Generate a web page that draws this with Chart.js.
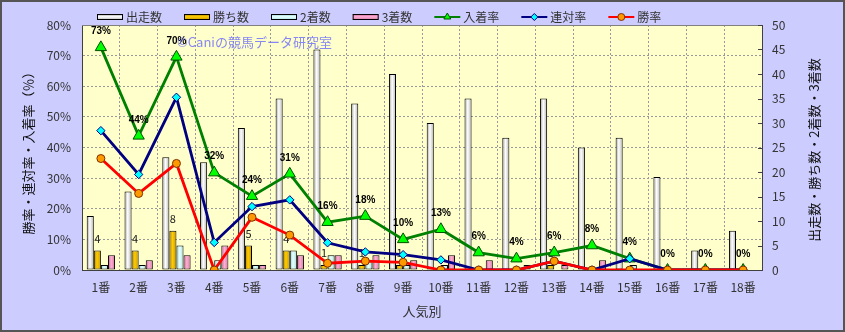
<!DOCTYPE html>
<html>
<head>
<meta charset="utf-8">
<script src="https://cdn.jsdelivr.net/npm/chart.js@4.4.1/dist/chart.umd.min.js"></script>
<style>
  html, body { margin: 0; padding: 0; background: #ccccff; }
</style>
</head>
<body>
<canvas id="chart" width="845" height="332"></canvas>
<script>
const labels = ['1番', '2番', '3番', '4番', '5番', '6番', '7番', '8番', '9番', '10番', '11番', '12番', '13番', '14番', '15番', '16番', '17番', '18番'];

// counts (right axis)
const starts = [11, 16, 23, 22, 29, 35, 45, 34, 40, 30, 35, 27, 35, 25, 27, 19, 4, 8];
const wins = [4, 4, 8, 0, 5, 4, 1, 1, 1, 0, 0, 0, 1, 0, 0, 0, 0, 0];
const seconds = [1, 1, 5, 2, 1, 4, 3, 2, 1, 1, 0, 0, 0, 0, 1, 0, 0, 0];
const thirds = [3, 2, 3, 5, 1, 3, 3, 3, 2, 3, 2, 1, 1, 2, 0, 0, 0, 0];

// rates in % (left axis)
const placeRate = [72.7, 43.8, 69.6, 31.8, 24.1, 31.4, 15.6, 17.6, 10.0, 13.3, 5.7, 3.7, 5.7, 8.0, 3.7, 0, 0, 0];
const quinellaRate = [45.5, 31.2, 56.4, 9.0, 20.7, 22.9, 8.9, 5.9, 5.0, 3.3, 0, 0, 2.9, 0, 3.7, 0, 0, 0];
const winRate = [36.4, 25.0, 34.8, 0, 17.2, 11.4, 2.2, 2.9, 2.5, 0, 0, 0, 2.9, 0, 0, 0, 0, 0];

const font = "'Noto Sans CJK JP', 'Noto Sans', sans-serif";
const textColor = '#333333';
const axisColor = '#404040';
const gridColor = '#999999';

// left edge, centre, right edge of each bar
const barShades = [
  ['#9c9c9c', '#ffffff', '#b4b4b4'],
  ['#b08400', '#ffcc00', '#c89800'],
  ['#8ccaca', '#e8ffff', '#a8e0e0'],
  ['#c45f90', '#ffaed4', '#d47aa6'],
];

function shadeGradient(ctx, x0, y0, x1, y1, s) {
  const g = ctx.createLinearGradient(x0, y0, x1, y1);
  g.addColorStop(0, s[0]);
  g.addColorStop(0.45, s[1]);
  g.addColorStop(1, s[2]);
  return g;
}

const legendItems = [
  { text: '出走数', bar: 0 },
  { text: '勝ち数', bar: 1 },
  { text: '2着数', bar: 2 },
  { text: '3着数', bar: 3 },
  { text: '入着率', line: '#008000', point: 'triangle', fill: '#00ff00', stroke: '#005000' },
  { text: '連対率', line: '#000080', point: 'rectRot', fill: '#00ffff', stroke: '#000080' },
  { text: '勝率', line: '#ff0000', point: 'circle', fill: '#ff9900', stroke: '#803000' },
];

const decor = {
  id: 'decor',
  beforeDraw(chart) {
    const { ctx, chartArea: a } = chart;
    ctx.save();
    ctx.fillStyle = '#ccccff';
    ctx.fillRect(0, 0, chart.width, chart.height);
    ctx.fillStyle = '#ffffcc';
    ctx.fillRect(a.left, a.top, a.right - a.left, a.bottom - a.top);
    ctx.restore();
  },
  beforeDatasetsDraw(chart) {
    const ctx = chart.ctx;
    for (let di = 0; di < 4; di++) {
      const meta = chart.getDatasetMeta(di);
      meta.data.forEach(el => {
        const g = shadeGradient(ctx, el.x - el.width / 2, 0, el.x + el.width / 2, 0, barShades[di]);
        el.options = Object.assign({}, el.options, { backgroundColor: g });
      });
    }
  },
  afterDatasetDraw(chart, args) {
    const ctx = chart.ctx;
    if (args.index === 1) {
      // win counts above the gold bars
      ctx.save();
      ctx.font = '11px ' + font;
      ctx.fillStyle = '#222';
      ctx.textAlign = 'center';
      ctx.textBaseline = 'middle';
      args.meta.data.forEach((el, i) => {
        if (wins[i] > 0) ctx.fillText(String(wins[i]), el.x, el.y - 12);
      });
      ctx.restore();
    }
    if (args.index === 4) {
      ctx.save();
      ctx.font = "bold 10px 'Liberation Sans', Arial, sans-serif";
      ctx.fillStyle = '#000';
      ctx.textAlign = 'center';
      ctx.textBaseline = 'middle';
      args.meta.data.forEach((el, i) => {
        ctx.fillText(Math.round(placeRate[i]) + '%', el.x, el.y - 16);
      });
      ctx.restore();
    }
  },
  afterDraw(chart) {
    const { ctx, chartArea: a } = chart;
    ctx.save();

    // plot top border
    ctx.strokeStyle = '#808080';
    ctx.lineWidth = 1;
    ctx.beginPath();
    ctx.moveTo(a.left, a.top + 0.5);
    ctx.lineTo(a.right, a.top + 0.5);
    ctx.stroke();

    // inward ticks on the right axis
    const y1 = chart.scales.y1;
    ctx.strokeStyle = axisColor;
    y1.ticks.forEach(t => {
      const py = Math.round(y1.getPixelForValue(t.value)) + 0.5;
      ctx.beginPath();
      ctx.moveTo(a.right - 4, py);
      ctx.lineTo(a.right, py);
      ctx.stroke();
    });

    // legend
    ctx.font = '12px ' + font;
    ctx.textBaseline = 'middle';
    ctx.textAlign = 'left';
    let x = 97;
    const ly = 17;
    legendItems.forEach(item => {
      if (item.bar !== undefined) {
        ctx.fillStyle = shadeGradient(ctx, 0, ly - 3, 0, ly + 3, barShades[item.bar]);
        ctx.fillRect(x, ly - 3, 26, 6);
        ctx.strokeStyle = '#000';
        ctx.lineWidth = 1;
        ctx.strokeRect(x + 0.5, ly - 2.5, 25, 5);
      } else {
        ctx.strokeStyle = item.line;
        ctx.lineWidth = 2;
        ctx.beginPath();
        ctx.moveTo(x, ly);
        ctx.lineTo(x + 26, ly);
        ctx.stroke();
        ctx.fillStyle = item.fill;
        ctx.strokeStyle = item.stroke;
        ctx.lineWidth = 1;
        Chart.helpers.drawPoint(ctx, { pointStyle: item.point, radius: item.point === 'triangle' ? 4 : 3.5, borderWidth: 1 }, x + 13, ly);
      }
      ctx.fillStyle = textColor;
      ctx.fillText(item.text, x + 29, ly);
      x += 29 + ctx.measureText(item.text).width + 22;
    });

    // axis titles
    ctx.fillStyle = '#111';
    ctx.font = '13px ' + font;
    ctx.textAlign = 'center';
    ctx.save();
    ctx.translate(28, 150);
    ctx.rotate(-Math.PI / 2);
    ctx.fillText('勝率・連対率・入着率（％）', 0, 0);
    ctx.restore();
    ctx.save();
    ctx.translate(814, 150);
    ctx.rotate(-Math.PI / 2);
    ctx.fillText('出走数・勝ち数・2着数・3着数', 0, 0);
    ctx.restore();
    ctx.fillStyle = textColor;
    ctx.fillText('人気別', (a.left + a.right) / 2, 311);

    // watermark
    ctx.font = '13px ' + font;
    ctx.textAlign = 'left';
    ctx.fillStyle = 'rgba(105, 105, 250, 0.8)';
    ctx.fillText('©Caniの競馬データ研究室', 177, 42);

    // outer frame
    ctx.strokeStyle = '#555';
    ctx.lineWidth = 2;
    ctx.strokeRect(1, 1, chart.width - 2, chart.height - 2);
    ctx.restore();
  },
};

function barSet(label, data) {
  return {
    type: 'bar',
    label: label,
    data: data,
    yAxisID: 'y1',
    backgroundColor: '#ffffff',
    borderColor: '#000000',
    borderWidth: 1,
    borderSkipped: false,
    barPercentage: 1.0,
    categoryPercentage: 0.75,
    order: 4,
  };
}

function lineSet(label, data, color, style, fill, stroke, radius, order) {
  return {
    type: 'line',
    label: label,
    data: data,
    yAxisID: 'y',
    borderColor: color,
    borderWidth: 2.8,
    pointStyle: style,
    pointRadius: radius,
    pointBackgroundColor: fill,
    pointBorderColor: stroke,
    pointBorderWidth: 1,
    tension: 0,
    order: order,
  };
}

new Chart(document.getElementById('chart').getContext('2d'), {
  type: 'bar',
  data: {
    labels: labels,
    datasets: [
      barSet('出走数', starts),
      barSet('勝ち数', wins),
      barSet('2着数', seconds),
      barSet('3着数', thirds),
      lineSet('入着率', placeRate, '#008000', 'triangle', '#00ff00', '#005000', 6.5, 3),
      lineSet('連対率', quinellaRate, '#000080', 'rectRot', '#00ffff', '#000080', 4.2, 2),
      lineSet('勝率', winRate, '#ff0000', 'circle', '#ff9900', '#803000', 4, 1),
    ],
  },
  options: {
    responsive: false,
    animation: false,
    layout: { padding: { top: 25, left: 0, right: 0, bottom: 0 } },
    plugins: {
      legend: { display: false },
      tooltip: { enabled: false },
    },
    scales: {
      x: {
        offset: true,
        grid: { offset: true, color: gridColor, drawTicks: false },
        border: { color: axisColor, dash: [2, 2] },
        ticks: { color: textColor, font: { family: font, size: 12 }, padding: 10, maxRotation: 0 },
        afterFit(scale) { scale.height = 62; },
      },
      y: {
        position: 'left',
        min: 0,
        max: 80,
        ticks: { stepSize: 10, color: textColor, font: { family: font, size: 12 }, padding: 11, callback: v => v + '%' },
        grid: { color: gridColor, drawTicks: false },
        border: { color: axisColor, dash: [2, 2] },
        afterFit(scale) { scale.width = 82; },
      },
      y1: {
        position: 'right',
        min: 0,
        max: 50,
        ticks: { stepSize: 5, color: textColor, font: { family: font, size: 12 }, padding: 10 },
        grid: { drawOnChartArea: false, drawTicks: false },
        border: { color: axisColor },
        afterFit(scale) { scale.width = 83; },
      },
    },
  },
  plugins: [decor],
});
</script>
</body>
</html>
